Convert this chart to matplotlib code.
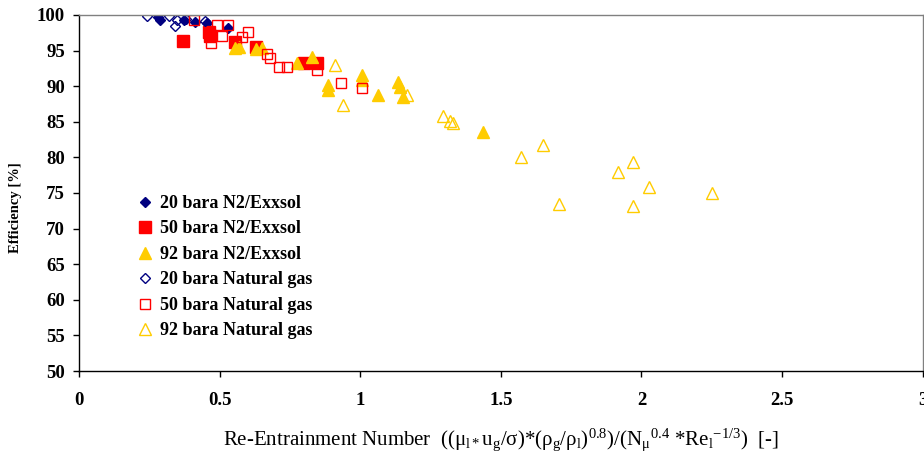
import matplotlib
matplotlib.use("Agg")
import matplotlib.pyplot as plt

plt.rcParams["font.family"] = ["Liberation Serif", "DejaVu Serif"]
plt.rcParams["mathtext.fontset"] = "custom"
plt.rcParams["mathtext.rm"] = "Liberation Serif"
plt.rcParams["mathtext.it"] = "Liberation Serif:italic"
plt.rcParams["mathtext.bf"] = "Liberation Serif:bold"
plt.rcParams["mathtext.default"] = "regular"

# Re-entrainment number vs. separation efficiency [%]
n2_20_x = [0.281, 0.288, 0.373, 0.412, 0.455, 0.530]
n2_20_y = [99.7, 99.3, 99.3, 99.0, 98.9, 98.2]

n2_50_x = [0.370, 0.462, 0.466, 0.555, 0.630, 0.800, 0.845]
n2_50_y = [96.3, 97.6, 97.1, 96.2, 95.5, 93.2, 93.2]

n2_92_x = [0.555, 0.570, 0.630, 0.650, 0.775, 0.830, 0.885, 0.885,
           1.005, 1.005, 1.063, 1.134, 1.140, 1.152, 1.436]
n2_92_y = [95.4, 95.5, 95.2, 95.3, 93.3, 94.1, 90.2, 89.5,
           91.6, 90.9, 88.8, 90.6, 89.9, 88.5, 83.6]

ng_20_x = [0.242, 0.320, 0.341, 0.348, 0.380, 0.448]
ng_20_y = [99.9, 99.9, 98.4, 99.3, 99.4, 99.2]

ng_50_x = [0.410, 0.490, 0.530, 0.510, 0.470, 0.580, 0.600, 0.670,
           0.680, 0.710, 0.740, 0.846, 0.930, 1.005]
ng_50_y = [99.3, 98.6, 98.6, 97.0, 96.0, 96.9, 97.6, 94.5,
           94.0, 92.7, 92.7, 92.3, 90.4, 89.7]

ng_92_x = [0.910, 0.940, 1.166, 1.294, 1.319, 1.330, 1.571, 1.650,
           1.706, 1.916, 1.970, 1.970, 2.026, 2.250]
ng_92_y = [93.0, 87.3, 88.8, 85.8, 85.1, 84.8, 80.1, 81.8,
           73.5, 78.0, 79.4, 73.2, 75.9, 75.0]

labels = ["20 bara N2/Exxsol", "50 bara N2/Exxsol", "92 bara N2/Exxsol",
          "20 bara Natural gas", "50 bara Natural gas", "92 bara Natural gas"]

x_ticks = [0, 0.5, 1, 1.5, 2, 2.5, 3]
x_tick_labels = ["0", "0.5", "1", "1.5", "2", "2.5", "3"]
y_ticks = [50, 55, 60, 65, 70, 75, 80, 85, 90, 95, 100]

navy = "#000080"
red = "#FF0000"
gold = "#FFCC00"

fig = plt.figure(figsize=(9.24, 4.61), dpi=100)
ax = fig.add_axes([0.0855, 0.1952, 0.913, 0.7723])

ax.plot(n2_20_x, n2_20_y, ls="none", marker="D", ms=5.2, color=navy,
        mec=navy, label=labels[0])
ax.plot(n2_50_x, n2_50_y, ls="none", marker="s", ms=8.2, color=red,
        mec=red, label=labels[1])
ax.plot(n2_92_x, n2_92_y, ls="none", marker="^", ms=8.5, color=gold,
        mec=gold, label=labels[2])
ax.plot(ng_20_x, ng_20_y, ls="none", marker="D", ms=4.8, mfc="none",
        mec=navy, mew=1.0, label=labels[3])
ax.plot(ng_50_x, ng_50_y, ls="none", marker="s", ms=7.6, mfc="none",
        mec=red, mew=1.0, label=labels[4])
ax.plot(ng_92_x, ng_92_y, ls="none", marker="^", ms=8.5, mfc="none",
        mec=gold, mew=1.0, label=labels[5])

ax.set_xlim(0, 3)
ax.set_ylim(50, 100)
ax.set_xticks(x_ticks)
ax.set_xticklabels(x_tick_labels)
ax.set_yticks(y_ticks)

for side in ("left", "bottom"):
    ax.spines[side].set_color("black")
    ax.spines[side].set_linewidth(1.0)
for side in ("top", "right"):
    ax.spines[side].set_color("#808080")
    ax.spines[side].set_linewidth(1.0)

ax.tick_params(axis="both", direction="out", length=4, width=1.0,
               labelsize=13.5)
ax.tick_params(axis="x", pad=11)
ax.tick_params(axis="y", pad=6)
for lbl in ax.get_xticklabels() + ax.get_yticklabels():
    lbl.set_fontweight("bold")

ax.set_ylabel("Efficiency [%]", fontsize=10.5, fontweight="bold")
ax.yaxis.set_label_coords(-0.068, 0.458)

xlabel = (r"Re-Entrainment Number  ((μ$_{l*}$u$_{g}$/σ)*(ρ$_{g}$/ρ$_{l}$)$^{0.8}$)"
          r"/(N$_{μ}$$^{0.4}$ *Re$_{l}$$^{-1/3}$)  [-]")
ax.set_xlabel(xlabel, fontsize=15)
ax.xaxis.set_label_coords(0.5, -0.155)

leg = ax.legend(loc="upper left", bbox_to_anchor=(0.0612, 0.515), frameon=False,
                prop={"family": "Liberation Serif", "weight": "bold", "size": 13},
                handlelength=0.8, handletextpad=0.43, labelspacing=0.47,
                borderaxespad=0.0, numpoints=1)

fig.savefig("out.png", dpi=100)
